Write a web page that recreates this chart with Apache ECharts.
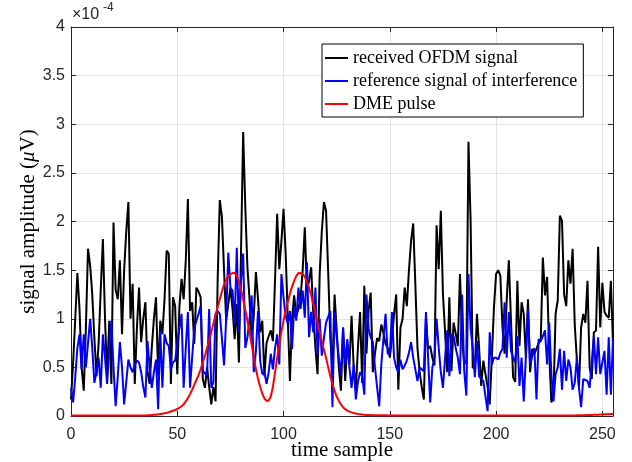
<!DOCTYPE html>
<html>
<head>
<meta charset="utf-8">
<script src="https://cdn.jsdelivr.net/npm/echarts@6/dist/echarts.min.js"></script>
<style>
html,body{margin:0;padding:0;background:#fff;}
#chart{width:632px;height:462px;}
</style>
</head>
<body>
<div id="chart"></div>
<script>
// values in units of 1e-4 (µV)
const received = [
 0.17,0.55,1.0,1.47,1.1,0.5,0.26,0.9,1.72,1.55,
 1.25,0.8,0.41,0.75,1.3,1.82,1.0,0.41,0.98,0.33,
 1.99,1.3,1.2,1.6,0.84,1.5,1.9,2.2,1.0,1.36,
 0.33,0.9,1.32,0.76,1.0,1.17,0.46,0.33,0.7,1.0,
 1.22,0.41,0.98,0.84,1.2,1.7,1.67,0.33,1.22,1.13,
 0.43,1.12,1.41,1.2,1.6,2.23,1.08,1.17,0.74,1.32,
 1.28,
 1.22,0.38,0.29,0.5,0.3,0.12,0.3,0.15,1.4,2.22,
 2.05,1.5,0.98,1.15,1.32,1.1,0.79,1.15,0.55,1.7,
 2.92,2.15,1.53,1.2,0.79,1.03,1.48,1.2,0.86,0.98,
 0.41,0.75,0.82,0.88,0.77,1.4,2.08,1.51,1.8,2.13,
 1.67,1.0,0.36,1.01,1.24,1.03,1.1,1.22,1.5,1.94,
 1.29,1.39,1.53,1.05,0.7,0.43,1.46,1.9,2.2,2.11,
 1.48,0.8,0.46,1.25,0.88,0.5,0.26,0.91,0.36,0.74,
 0.53,1.03,0.5,0.27,0.7,1.07,0.34,1.34,0.64,1.08,
 1.27,0.45,0.64,0.8,0.77,0.94,0.85,0.74,0.7,0.6,
 0.8,1.05,1.25,0.27,0.91,1.0,1.32,1.13,1.5,1.8,
 1.98,1.36,0.7,0.46,0.3,0.17,1.01,0.69,0.72,0.6,
 0.52,1.96,1.51,2.11,1.25,0.86,0.45,1.22,0.46,0.96,
 0.85,
 0.72,1.46,0.8,0.53,0.57,2.82,2.01,0.5,0.48,1.05,
 0.7,0.31,0.57,0.43,0.3,0.12,0.6,1.12,1.46,1.5,
 1.44,0.91,0.64,1.2,1.6,0.98,0.4,0.35,1.39,0.72,
 1.17,1.05,0.6,1.2,0.45,0.69,0.64,0.69,0.75,0.77,
 1.63,1.24,1.43,0.64,0.14,0.22,1.05,1.19,2.06,2.01,
 1.25,1.13,1.6,1.36,1.72,0.94,0.58,0.29,0.91,1.05,
 0.96,1.39,0.5,0.38,0.86,0.88,1.74,0.91,1.37,1.07,
 1.03,1.01,1.39,0.74
];
const reference = [
 0.29,0.14,0.4,0.7,0.84,0.48,0.84,0.5,0.75,1.0,
 0.7,0.34,0.46,0.6,0.29,0.84,0.6,0.33,0.7,0.98,
 0.5,0.1,0.4,0.76,0.5,0.12,0.35,0.58,0.5,0.45,
 0.53,0.57,0.55,0.45,0.3,0.19,0.77,0.5,0.29,0.45,
 0.58,0.07,0.88,0.29,0.84,0.75,0.72,0.48,0.55,0.57,
 0.75,0.9,1.05,0.29,0.7,1.07,0.29,0.6,0.9,0.98,
 1.05,
 1.13,0.46,0.44,0.41,1.1,0.29,0.35,1.05,1.08,1.05,
 0.8,0.52,1.0,1.68,1.32,1.29,0.94,1.73,0.86,1.39,
 1.67,0.7,0.81,1.0,1.24,0.45,0.67,1.08,0.57,0.43,
 0.45,0.33,0.45,0.64,0.48,0.7,0.84,0.53,1.46,1.22,
 1.03,0.95,1.08,0.69,1.13,0.98,1.32,1.1,1.29,1.01,
 1.58,0.81,1.07,0.86,1.32,0.62,1.0,0.62,0.8,0.96,
 1.02,1.08,0.09,1.07,0.81,0.6,0.41,0.91,0.53,0.79,
 0.5,0.29,0.53,0.17,0.35,0.45,0.41,0.22,1.25,0.9,
 0.81,0.76,0.5,0.3,0.1,0.53,0.8,1.05,0.64,0.64,
 1.07,0.6,0.5,0.45,0.58,0.48,0.52,0.57,0.65,0.76,
 0.6,0.48,0.36,0.5,0.48,0.46,1.07,0.6,0.14,0.5,
 0.6,1.0,0.7,0.45,0.29,0.6,0.88,0.41,0.84,0.82,
 0.7,
 0.6,0.43,1.25,0.46,0.21,1.46,0.9,0.7,0.4,0.77,
 0.41,0.38,0.36,0.2,0.05,0.86,0.53,0.6,0.6,0.58,
 0.65,0.69,1.17,0.6,1.07,0.67,0.6,0.55,0.82,0.31,
 0.6,0.15,0.6,1.1,0.53,0.62,0.7,0.17,0.79,0.77,
 0.82,0.88,0.53,0.96,0.43,0.15,0.43,0.5,0.69,0.27,
 0.67,0.36,0.58,0.5,0.27,0.34,0.6,0.29,0.09,0.38,
 0.37,0.36,0.29,0.55,0.82,0.43,0.81,0.43,0.55,0.67,
 0.22,0.81,0.22,0.8
];
const dmePulse = [
 0.005,0.005,0.005,0.005,0.005,0.005,0.005,0.005,0.005,0.005,
 0.005,0.005,0.005,0.005,0.005,0.005,0.005,0.005,0.005,0.005,
 0.005,0.005,0.005,0.005,0.005,0.005,0.005,0.005,0.005,0.005,
 0.005,0.005,0.005,0.005,0.005,0.005,0.007,0.008,0.01,0.012,
 0.014,0.017,0.02,0.024,0.028,0.033,0.039,0.046,0.054,0.062,
 0.072,0.085,0.1,0.12,0.15,0.185,0.225,0.27,0.32,0.37,
 0.42,0.48,0.55,0.62,0.7,0.78,0.86,0.95,1.04,1.12,
 1.2,1.28,1.35,1.4,1.44,1.46,1.47,1.47,1.44,1.38,
 1.3,1.2,1.09,0.98,0.86,0.73,0.6,0.48,0.38,0.3,
 0.23,0.18,0.155,0.16,0.2,0.3,0.45,0.6,0.74,0.87,
 0.98,1.08,1.17,1.26,1.33,1.39,1.44,1.47,1.47,1.46,
 1.43,1.38,1.32,1.24,1.15,1.05,0.96,0.86,0.77,0.68,
 0.6,0.5,0.41,0.33,0.26,0.2,0.155,0.12,0.09,0.07,
 0.055,0.045,0.037,0.03,0.025,0.021,0.018,0.015,0.013,0.011,
 0.01,0.009,0.009,0.008,0.008,0.008,0.007,0.007,0.007,0.006,
 0.006,0.005,0.005,0.005,0.005,0.005,0.005,0.005,0.005,0.005,
 0.005,0.005,0.005,0.005,0.005,0.005,0.005,0.005,0.005,0.005,
 0.005,0.005,0.005,0.005,0.005,0.005,0.005,0.005,0.005,0.005,
 0.005,0.005,0.005,0.005,0.005,0.005,0.005,0.005,0.005,0.005,
 0.005,0.005,0.005,0.005,0.005,0.005,0.005,0.005,0.005,0.005,
 0.005,0.005,0.005,0.005,0.005,0.005,0.005,0.005,0.005,0.005,
 0.005,0.005,0.005,0.005,0.005,0.005,0.005,0.005,0.005,0.005,
 0.005,0.005,0.005,0.005,0.005,0.005,0.005,0.005,0.005,0.005,
 0.005,0.005,0.005,0.005,0.005,0.005,0.006,0.006,0.007,0.007,
 0.008,0.008,0.009,0.009,0.01,0.011,0.012,0.013,0.014,0.015,
 0.016,0.017,0.018,0.019,0.02,0.02
];
const seriesNames = ['received OFDM signal', 'reference signal of interference', 'DME pulse'];
const seriesColors = ['#000000', '#0000ff', '#ff0000'];
const xTicks = [0, 50, 100, 150, 200, 250];
const yTickLabels = ['0','0.5','1','1.5','2','2.5','3','3.5','4'];

const toPairs = arr => arr.map((v, i) => [i, v]);

const chart = echarts.init(document.getElementById('chart'), null, {renderer: 'canvas'});
const axisColor = '#262626';
const tickFont = 'Liberation Sans, Arial, sans-serif';
const serif = 'Liberation Serif, Times New Roman, serif';

const baseX = {
  type: 'value', min: 0, max: 255, interval: 50,
  axisLine: {show: true, onZero: false, lineStyle: {color: axisColor, width: 1}},
  axisTick: {show: true, inside: true, length: 5, lineStyle: {color: axisColor}},
};
const baseY = {
  type: 'value', min: 0, max: 4, interval: 0.5,
  axisLine: {show: true, onZero: false, lineStyle: {color: axisColor, width: 1}},
  axisTick: {show: true, inside: true, length: 5, lineStyle: {color: axisColor}},
};

chart.setOption({
  animation: false,
  backgroundColor: '#ffffff',
  grid: {left: 71, right: 19, top: 27, bottom: 46, containLabel: false, outerBoundsMode: 'none'},
  xAxis: [
    Object.assign({}, baseX, {
      position: 'bottom',
      name: 'time sample', nameLocation: 'middle', nameGap: 24, nameMoveOverlap: false,
      nameTextStyle: {fontFamily: serif, fontSize: 21, color: '#000'},
      axisLabel: {show: true, margin: 11, fontFamily: tickFont, fontSize: 16, color: axisColor,
        formatter: v => xTicks.indexOf(v) >= 0 ? String(v) : ''},
      splitLine: {show: true, lineStyle: {color: '#e3e3e3', width: 1}}
    }),
    Object.assign({}, baseX, {
      position: 'top', axisLabel: {show: false}, splitLine: {show: false}
    })
  ],
  yAxis: [
    Object.assign({}, baseY, {
      position: 'left',
      name: 'signal amplitude ({i|μ}V)', nameLocation: 'middle', nameGap: 32, nameMoveOverlap: false,
      nameTextStyle: {fontFamily: serif, fontSize: 21, color: '#000',
        rich: {i: {fontFamily: serif, fontSize: 21, fontStyle: 'italic', color: '#000'}}},
      axisLabel: {show: true, margin: 6, fontFamily: tickFont, fontSize: 16, color: axisColor,
        formatter: v => yTickLabels[Math.round(v / 0.5)]},
      splitLine: {show: true, lineStyle: {color: '#e3e3e3', width: 1}}
    }),
    Object.assign({}, baseY, {
      position: 'right', axisLabel: {show: false}, splitLine: {show: false}
    })
  ],
  legend: {
    orient: 'vertical', left: 322, top: 44,
    padding: [4, 6, 3, 3], itemGap: 3,
    itemWidth: 23, itemHeight: 2, icon: 'rect',
    backgroundColor: '#ffffff', borderColor: '#000000', borderWidth: 1, borderRadius: 0,
    textStyle: {fontFamily: serif, fontSize: 18, color: '#000', lineHeight: 20},
    data: seriesNames
  },
  graphic: [
    {type: 'text', left: 72, top: 7, style: {text: '×10', font: '16px Liberation Sans', fill: axisColor}},
    {type: 'text', left: 103, top: 2, style: {text: '-4', font: '12px Liberation Sans', fill: axisColor}}
  ],
  series: [
    {name: seriesNames[0], type: 'line', data: toPairs(received), showSymbol: false, symbol: 'none',
     lineStyle: {color: seriesColors[0], width: 2}, itemStyle: {color: seriesColors[0]}, z: 2},
    {name: seriesNames[1], type: 'line', data: toPairs(reference), showSymbol: false, symbol: 'none',
     lineStyle: {color: seriesColors[1], width: 2}, itemStyle: {color: seriesColors[1]}, z: 3},
    {name: seriesNames[2], type: 'line', data: toPairs(dmePulse), showSymbol: false, symbol: 'none',
     lineStyle: {color: seriesColors[2], width: 2}, itemStyle: {color: seriesColors[2]}, z: 4}
  ]
});
</script>
</body>
</html>
